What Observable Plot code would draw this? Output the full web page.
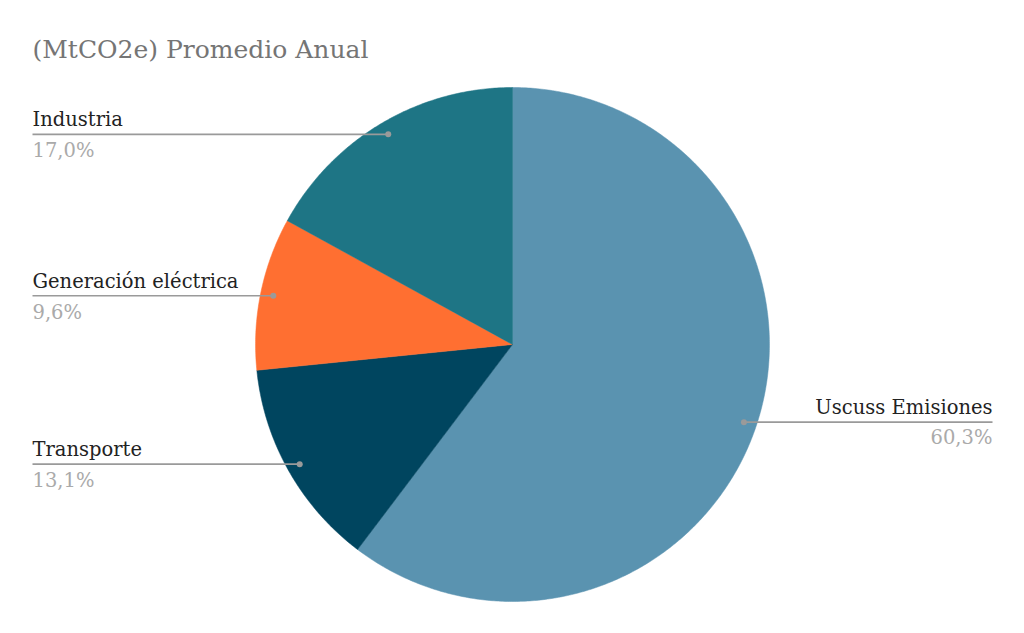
<!DOCTYPE html>
<html>
<head>
<meta charset="utf-8">
<script src="https://cdn.jsdelivr.net/npm/d3@7"></script>
<script src="https://cdn.jsdelivr.net/npm/@observablehq/plot@0.6"></script>
<style>
  html, body { margin: 0; padding: 0; background: #fff; }
  #chart { width: 1024px; height: 633px; }
</style>
</head>
<body>
<div id="chart"></div>
<script>
// ---- Data ----
const title = "(MtCO2e) Promedio Anual";
const categories = ["Uscuss Emisiones", "Transporte", "Generación eléctrica", "Industria"];
const values = [60.3, 13.1, 9.6, 17.0];
const percentLabels = ["60,3%", "13,1%", "9,6%", "17,0%"];
const colors = ["#5a93b0", "#00455f", "#ff6f31", "#1e7585"];

// ---- Geometry (clockwise from 12 o'clock, unit radius) ----
const total = d3.sum(values);
let cum = 0;
const slices = categories.map((name, i) => {
  const a0 = cum / total * 2 * Math.PI;
  cum += values[i];
  const a1 = cum / total * 2 * Math.PI;
  return {name, a0, a1, mid: (a0 + a1) / 2, pct: percentLabels[i]};
});

const poly = [];
for (const s of slices) {
  poly.push({name: s.name, x: 0, y: 0});
  const n = Math.max(2, Math.ceil((s.a1 - s.a0) / (Math.PI / 360)));
  for (let k = 0; k <= n; k++) {
    const a = s.a0 + (s.a1 - s.a0) * k / n;
    poly.push({name: s.name, x: Math.sin(a), y: Math.cos(a)});
  }
  poly.push({name: s.name, x: 0, y: 0});
}

const LABEL_X = 1.868; // label column, in radius units
const leaders = slices.map(s => {
  const r = 0.95;
  const x = r * Math.sin(s.mid), y = r * Math.cos(s.mid);
  const left = x < 0;
  return {name: s.name, pct: s.pct, x, y, left, lx: left ? -LABEL_X : LABEL_X};
});
const leftL = leaders.filter(d => d.left);
const rightL = leaders.filter(d => !d.left);

const font = "'DejaVu Serif', Georgia, serif";

const chart = Plot.plot({
  width: 1024,
  height: 633,
  margin: 0,
  style: {fontFamily: font, background: "#fff", overflow: "visible"},
  x: {domain: [-LABEL_X, LABEL_X], range: [32, 992], axis: null},
  y: {domain: [-1, 1], range: [601, 87], axis: null},
  color: {type: "ordinal", domain: categories, range: colors},
  marks: [
    Plot.line(poly, {x: "x", y: "y", z: "name", fill: "name", stroke: "name", strokeWidth: 0.5, curve: "linear"}),
    Plot.link(leaders, {x1: "lx", y1: "y", x2: "x", y2: "y", stroke: "#9a9a9a", strokeWidth: 1.6}),
    Plot.dot(leaders, {x: "x", y: "y", r: 3, fill: "#9a9a9a", stroke: "none"}),
    Plot.text(leftL, {x: "lx", y: "y", text: "name", textAnchor: "start", lineAnchor: "bottom", dy: -8, fontSize: 19.5, fill: "#222"}),
    Plot.text(leftL, {x: "lx", y: "y", text: "pct", textAnchor: "start", lineAnchor: "bottom", dy: 23, fontSize: 19.5, fill: "#aaaaaa"}),
    Plot.text(rightL, {x: "lx", y: "y", text: "name", textAnchor: "end", lineAnchor: "bottom", dy: -8, fontSize: 19.5, fill: "#222"}),
    Plot.text(rightL, {x: "lx", y: "y", text: "pct", textAnchor: "end", lineAnchor: "bottom", dy: 22, fontSize: 19.5, fill: "#aaaaaa"}),
    Plot.text([title], {frameAnchor: "top-left", text: d => d, dx: 32, dy: 57, lineAnchor: "bottom", textAnchor: "start", fontSize: 25, fill: "#757575"})
  ]
});
document.getElementById("chart").appendChild(chart);
</script>
</body>
</html>
